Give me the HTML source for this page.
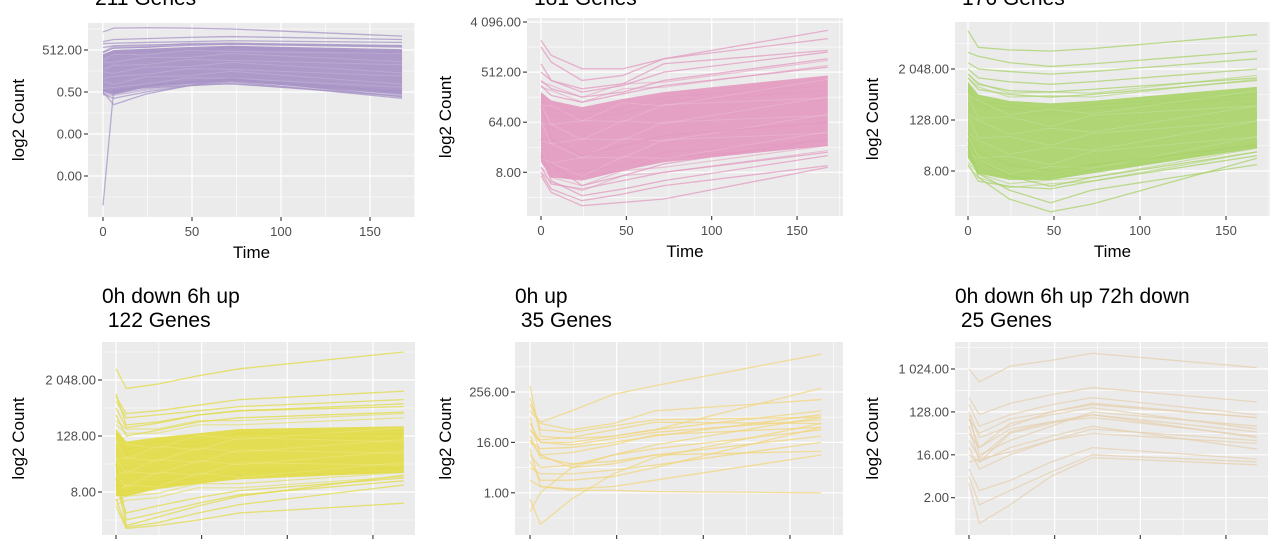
<!DOCTYPE html>
<html><head><meta charset="utf-8"><style>
html,body{margin:0;padding:0;background:#fff;width:1280px;height:545px;overflow:hidden}
svg{display:block;font-family:"Liberation Sans",sans-serif}
</style></head><body>
<svg id="chart" width="1280" height="545" viewBox="0 0 1280 545"></svg>
<script>
const times=[0,6,24,48,72,168];
const xTickVals=[0,50,100,150];
const xTickLabels=["0","50","100","150"];
const titles1=["","","","0h down 6h up","0h up","0h down 6h up 72h down"];
const titles2=["211 Genes","181 Genes","176 Genes"," 122 Genes"," 35 Genes"," 25 Genes"];
const p1Ticks=[9,-1,-11,-21], p1TickLabels=["512.00","0.50","0.00","0.00"];
const p2Ticks=[12,9,6,3], p2TickLabels=["4 096.00","512.00","64.00","8.00"];
const p3Ticks=[11,7,3], p3TickLabels=["2 048.00","128.00","8.00"];
const p4Ticks=[11,7,3], p4TickLabels=["2 048.00","128.00","8.00"];
const p5Ticks=[8,4,0], p5TickLabels=["256.00","16.00","1.00"];
const p6Ticks=[10,7,4,1], p6TickLabels=["1 024.00","128.00","16.00","2.00"];
const p1BandLow=[-1,-1.5,0,1,1.5,-1.5], p1BandHigh=[8,9,9.3,9.7,10,9.2];
const p2BandLow=[3.6,2.7,2.5,3.1,3.6,4.6], p2BandHigh=[7.8,7.3,6.9,7.4,7.8,8.8];
const p3BandLow=[4,2.8,2.3,2.3,2.8,4.8], p3BandHigh=[10,9,8.5,8.3,8.5,9.6];
const p4BandLow=[2.7,2.7,3.2,3.6,3.9,4.4], p4BandHigh=[7.5,6.6,6.9,7.2,7.5,7.7];
const p5BandLow=null, p5BandHigh=null, p6BandLow=null, p6BandHigh=null;
const p1Lines=[[13.3,14.2,14.3,14.2,14,12.3],[11,11.5,11.7,12,12.2,11.5],[10.5,10.6,10.8,11,11.2,10.8],[-1.5,-2.5,-1,0.5,1.5,-2.5],[-28,-0.5,0,0.5,1,-2],[-1,-4,-1.5,0.5,2.2,-2.2],[9.6,10,10.2,10.4,10.6,10],[8.5,9.4,9.7,10.1,10.4,9.7],[-0.5,-1,0.6,1.5,2,-0.8]];
const p2Lines=[[10.9,10,9.2,9.2,9.8,11.5],[10.5,9.6,8.5,8.8,9.8,11],[9.5,8.5,7.8,8.2,9,10.2],[9,8.5,8,8.3,9.5,10.3],[2.8,1.8,1,1.2,1.4,3.3],[3,2,1.3,1.7,2.2,3.4],[4,2.5,1.6,2,2.5,4],[5,3.5,2.2,2.8,3.5,5],[8.5,8,7.5,7.8,8.5,9.8],[8.2,7.6,7.2,7.7,8.2,9.3],[3.3,2.3,2,2.5,3,4.2],[7,5,4,4.6,5.2,6]];
const p3Lines=[[14,12.7,12.5,12.4,12.6,13.7],[12.3,12,11.5,11.2,11.4,12.4],[11.5,11,10.8,10.6,10.8,11.8],[11,10.3,10,9.8,10,11],[5,2.5,0.8,-0.2,0.4,4],[4.5,2.8,1.5,0.5,1.5,3.5],[5.5,3.8,2.6,1.8,2.5,4.5],[6,4.5,3.5,3,3.5,5],[10.6,9.8,9.3,9.2,9.4,10.3],[10.3,9.4,9,8.8,9,10.1],[3.5,2.2,1.8,1.6,2.2,4.2]];
const p4Lines=[[11.8,10.4,10.7,11.3,11.8,13],[9.8,8.6,8.8,9.2,9.6,10.2],[9.5,8.3,8.5,8.8,9.1,9.6],[9,7.6,7.9,8.5,8.8,9.3],[8.5,7,7.4,8,8.3,8.7],[2.5,0.5,0.8,1.5,2.1,3.5],[2,0.4,0.6,1,1.5,2.2],[3.5,1.5,2,2.6,3.1,4],[5,1,1.5,2.2,2.8,3.8],[4,0.6,1.2,2,2.7,4.2],[10,7.8,8,8.5,8.8,9.1]];
const p5Lines=[[6.5,5.6,6.5,7.8,8.5,11],[8.5,4.5,4.3,4.5,5,8.3],[7,5.5,5,5.5,6.5,7.4],[5,4,4,4.5,5,6.5],[4,3.5,3.6,4,4.5,6.2],[3,2,2.2,3,3.8,6],[2,1.5,1.5,1.8,2.2,4],[1,0.5,0.2,0.2,0.1,0],[-1.5,0,2,3,3.5,5],[-0.5,-2.5,-0.5,1.5,2.8,5.5],[6,3,2,2.3,3,4.5],[4.5,2.8,2.3,2.5,3,3.3],[5.5,4,3.8,4.3,4.8,5.8],[3.5,0.5,0.3,0.5,1,3],[2.5,1,1,1.3,2,5.2],[7.5,5,4.8,5.3,5.8,6],[5,4.2,4.4,5,5.6,5.5],[4.2,3,3.2,3.8,4.6,5.2]];
const p6Lines=[[10,9.1,10.2,10.6,11.1,10.1],[8,6.8,7.6,8.2,8.7,7.7],[7.5,6,6.8,7.5,8,6.8],[7,5.2,6,7,7.6,6.6],[6.5,5.5,6.5,7,7.5,6.6],[6.5,4.5,6.2,6.8,7.3,5.8],[6,3.5,5.5,6.2,6.8,5.6],[5.5,4.5,5.8,6.3,6.8,5.2],[5,3.8,5.6,6.3,6.6,5.3],[4.5,3,4,5,5.8,5],[4,3.5,4.5,5.3,6,4.4],[3.5,3.7,4.2,5,5.5,4.8],[2.5,0.5,1.5,2.8,4,3.5],[3,1.5,2.2,3.5,4.5,3.7],[2,-0.8,0.5,2.5,3.8,3.3],[6.8,4,5,6,7,6]];

const panels=[
 {x0:88,x1:415,y0:23,y1:217,zx:103,sx:1.78,rv:9,rp:50,sy:4.2,ticks:p1Ticks,lab:p1TickLabels,low:p1BandLow,high:p1BandHigh,lines:p1Lines,col:"#a793c6",ax:18,xl:true},
 {x0:527,x1:843,y0:18,y1:216,zx:541,sx:1.707,rv:12,rp:22,sy:16.7,ticks:p2Ticks,lab:p2TickLabels,low:p2BandLow,high:p2BandHigh,lines:p2Lines,col:"#e39ac0",ax:445,xl:true},
 {x0:955,x1:1270,y0:22,y1:216,zx:968,sx:1.72,rv:11,rp:69,sy:12.75,ticks:p3Ticks,lab:p3TickLabels,low:p3BandLow,high:p3BandHigh,lines:p3Lines,col:"#a9d26a",ax:872,xl:true},
 {x0:102,x1:415,y0:342,y1:535,zx:116,sx:1.713,rv:11,rp:380,sy:14,ticks:p4Ticks,lab:p4TickLabels,low:p4BandLow,high:p4BandHigh,lines:p4Lines,col:"#e2db45",ax:18,xl:false},
 {x0:515,x1:843,y0:342,y1:535,zx:530,sx:1.733,rv:8,rp:392,sy:12.6,ticks:p5Ticks,lab:p5TickLabels,low:p5BandLow,high:p5BandHigh,lines:p5Lines,col:"#f1d67c",ax:445,xl:false},
 {x0:955,x1:1268,y0:342,y1:535,zx:969,sx:1.713,rv:10,rp:369,sy:14.3,ticks:p6Ticks,lab:p6TickLabels,low:p6BandLow,high:p6BandHigh,lines:p6Lines,col:"#e6d0b0",ax:872,xl:false}
];
const NS="http://www.w3.org/2000/svg";
const svg=document.getElementById('chart');
function mk(tag,attrs,parent){const e=document.createElementNS(NS,tag);for(const k in attrs)e.setAttribute(k,attrs[k]);(parent||svg).appendChild(e);return e;}
panels.forEach((p,i)=>{
 const X=t=>p.zx+t*p.sx, Y=v=>p.rp+(p.rv-v)*p.sy;
 const g=mk('g',{});
 
 
 const bg=mk('rect',{x:p.x0,y:p.y0,width:p.x1-p.x0,height:p.y1-p.y0,fill:'#ebebeb'},g);
 
 
 const cp=mk('clipPath',{id:'cp'+i},g);mk('rect',{x:p.x0,y:p.y0,width:p.x1-p.x0,height:p.y1-p.y0},cp);
 for(let t=25;t<=175;t+=50){const x=X(t);if(x>p.x0&&x<p.x1)mk('line',{x1:x,x2:x,y1:p.y0,y2:p.y1,stroke:'#fff','stroke-width':0.6},g);}
 for(let k=0;k<p.ticks.length+1;k++){const step=p.ticks.length>1?(p.ticks[0]-p.ticks[1]):4;const v=p.ticks[0]+step/2-k*step;const y=Y(v);if(y>p.y0&&y<p.y1)mk('line',{x1:p.x0,x2:p.x1,y1:y,y2:y,stroke:'#fff','stroke-width':0.6},g);}
 xTickVals.forEach(t=>{const x=X(t);mk('line',{x1:x,x2:x,y1:p.y0,y2:p.y1,stroke:'#fff','stroke-width':1.2},g);mk('line',{x1:x,x2:x,y1:p.y1,y2:p.y1+4,stroke:'#333','stroke-width':1.1},g);});
 p.ticks.forEach((v,k)=>{const y=Y(v);mk('line',{x1:p.x0,x2:p.x1,y1:y,y2:y,stroke:'#fff','stroke-width':1.2},g);mk('line',{x1:p.x0-4,x2:p.x0,y1:y,y2:y,stroke:'#333','stroke-width':1.1},g);
  const tl=mk('text',{x:p.x0-6,y:y+4.5,'text-anchor':'end','font-size':13,fill:'#4d4d4d'},g);tl.textContent=p.lab[k];
  
  });
 const dg=mk('g',{'clip-path':'url(#cp'+i+')'},g);
 
 
 if(p.low){
  // soft edges
  [-0.6,-0.3,0.3,0.6].forEach(o=>{
   mk('polyline',{points:times.map((t,k)=>X(t)+','+Y(p.high[k]+o+0.3*Math.sign(o)*(k%2))).join(' '),fill:'none',stroke:p.col,'stroke-opacity':0.55,'stroke-width':1.2},dg);
   mk('polyline',{points:times.map((t,k)=>X(t)+','+Y(p.low[k]+o-0.3*Math.sign(o)*(k%2))).join(' '),fill:'none',stroke:p.col,'stroke-opacity':0.55,'stroke-width':1.2},dg);
  });
  const pts=times.map((t,k)=>X(t)+','+Y(p.high[k])).concat(times.slice().reverse().map((t,k)=>X(t)+','+Y(p.low[times.length-1-k]))).join(' ');
  const b=mk('polygon',{points:pts,fill:p.col,'fill-opacity':0.92},dg);
  
  
  for(let j=1;j<8;j++){const f=j/8;mk('polyline',{points:times.map((t,k)=>X(t)+','+Y(p.low[k]+(p.high[k]-p.low[k])*f+((j%2)?0.3:-0.3)*(k%2?1:-1))).join(' '),fill:'none',stroke:'#ffffff','stroke-opacity':0.15,'stroke-width':1},dg);}
 }
 p.lines.forEach(arr=>{const pl=mk('polyline',{points:times.map((t,k)=>X(t)+','+Y(arr[k])).join(' '),fill:'none',stroke:p.col,'stroke-opacity':0.75,'stroke-width':1.3},dg);
  
  });
 if(p.xl){xTickVals.forEach((t,k)=>{const tl=mk('text',{x:X(t),y:p.y1+19,'text-anchor':'middle','font-size':13,fill:'#4d4d4d'},g);tl.textContent=xTickLabels[k];
   
   });
  const xt=mk('text',{x:(p.x0+p.x1)/2,y:p.y1+41,'text-anchor':'middle','font-size':17,fill:'#000'},g);xt.textContent='Time';
  
  }
 const cy=(p.y0+p.y1)/2;
 const yt=mk('text',{x:p.ax+6,y:cy,'text-anchor':'middle','font-size':17,fill:'#000',transform:'rotate(-90 '+(p.ax+6)+' '+cy+')'},g);yt.textContent='log2 Count';
 
 
 const tx=p.x0+(i<3?7:0);
 if(titles1[i]){const t1=mk('text',{x:tx,y:p.y0-39,'font-size':21,fill:'#000'},g);t1.textContent=titles1[i];
  
  }
 const t2=mk('text',{x:tx,y:i<3?5:p.y0-15,'font-size':21,fill:'#000'},g);t2.textContent=titles2[i];t2.style.whiteSpace='pre';
 
 
});
</script>
</body></html>
